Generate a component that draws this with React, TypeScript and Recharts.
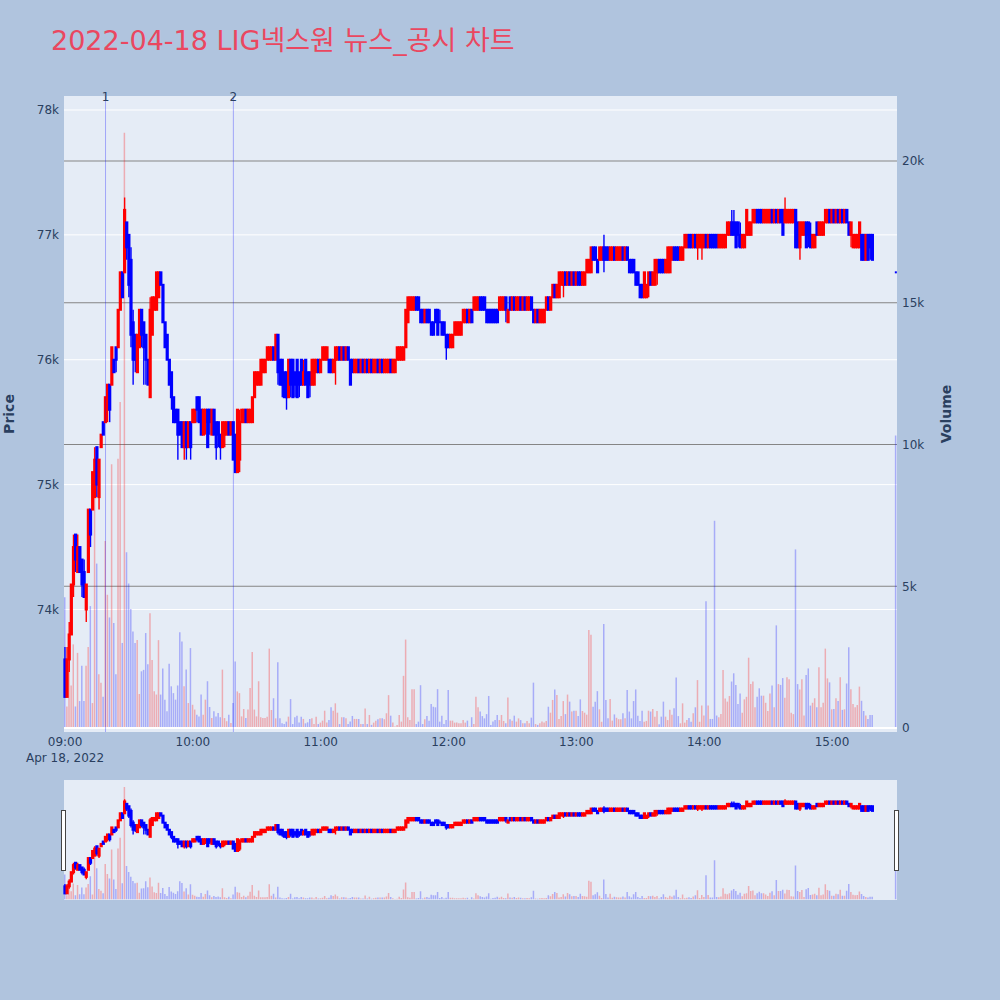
import React from 'react';
import { ComposedChart, Bar, XAxis, YAxis, CartesianGrid, ReferenceLine, Cell } from 'recharts';

// One-minute candles, 09:00 .. 15:19, prices in units of 100 won
const opens = [
  736, 733, 736, 738, 742, 746, 743, 745, 744, 743, 740, 743, 748, 748, 749, 753, 749, 753, 755, 755,
  756, 758, 758, 760, 761, 761, 764, 767, 767, 771, 770, 768, 763, 762, 759, 761, 764, 763, 762, 760,
  757, 762, 764, 764, 765, 767, 766, 763, 762, 760, 759, 757, 756, 756, 755, 755, 753, 755, 753, 755,
  755, 755, 757, 757, 756, 754, 755, 756, 756, 754, 756, 755, 755, 754, 753, 754, 754, 755, 754, 755,
  754, 751, 752, 755, 755, 756, 755, 755, 755, 757, 758, 758, 758, 759, 759, 760, 760, 760, 761, 760,
  762, 760, 760, 759, 759, 757, 760, 760, 759, 760, 759, 760, 758, 760, 759, 759, 758, 758, 759, 760,
  759, 760, 760, 760, 760, 760, 759, 760, 760, 761, 760, 761, 760, 761, 760, 760, 759, 759, 760, 759,
  760, 759, 760, 759, 760, 759, 759, 760, 759, 760, 759, 759, 759, 760, 759, 759, 760, 760, 760, 760,
  761, 763, 764, 764, 764, 765, 765, 764, 764, 763, 764, 764, 763, 763, 764, 764, 763, 763, 763, 762,
  762, 761, 761, 762, 762, 762, 762, 763, 763, 764, 763, 764, 764, 764, 764, 765, 765, 765, 764, 764,
  764, 764, 764, 764, 764, 764, 764, 765, 763, 765, 764, 765, 764, 764, 765, 764, 765, 764, 764, 765,
  764, 763, 764, 763, 763, 763, 764, 765, 764, 765, 766, 765, 765, 766, 766, 767, 766, 767, 766, 767,
  766, 767, 767, 766, 766, 767, 767, 767, 769, 769, 768, 768, 768, 769, 769, 769, 768, 768, 769, 768,
  768, 768, 769, 768, 769, 768, 768, 768, 767, 767, 766, 766, 765, 765, 766, 767, 766, 766, 767, 768,
  768, 768, 767, 767, 767, 768, 769, 769, 769, 768, 768, 769, 769, 770, 770, 769, 770, 769, 769, 769,
  769, 770, 769, 770, 770, 770, 770, 769, 769, 769, 769, 770, 770, 771, 771, 771, 771, 770, 769, 769,
  770, 770, 770, 771, 771, 772, 772, 772, 771, 771, 771, 771, 772, 771, 772, 771, 772, 772, 771, 771,
  771, 771, 771, 772, 771, 769, 770, 770, 771, 771, 770, 769, 769, 771, 770, 770, 770, 771, 771, 772,
  771, 772, 771, 772, 771, 772, 771, 772, 771, 770, 769, 769, 769, 769, 770, 770, 768, 770, 770, 770,
];
const highs = [
  737, 737, 739, 742, 746, 746, 746, 745, 744, 744, 742, 748, 748, 751, 753, 753, 752, 754, 755, 757,
  758, 758, 761, 760, 761, 764, 767, 767, 773, 771, 770, 769, 764, 762, 762, 764, 764, 763, 762, 760,
  765, 765, 765, 767, 767, 767, 766, 763, 762, 760, 759, 757, 756, 756, 755, 755, 755, 755, 755, 755,
  756, 756, 757, 757, 756, 756, 756, 756, 756, 756, 756, 755, 755, 754, 755, 755, 755, 755, 755, 755,
  754, 756, 756, 756, 756, 756, 756, 756, 757, 759, 759, 759, 760, 760, 760, 761, 761, 761, 761, 762,
  762, 760, 760, 759, 759, 760, 760, 760, 759, 760, 759, 760, 760, 760, 759, 759, 760, 760, 760, 760,
  760, 761, 761, 761, 760, 760, 760, 761, 761, 761, 761, 761, 761, 761, 760, 760, 760, 760, 760, 760,
  760, 760, 760, 760, 760, 760, 760, 760, 760, 760, 760, 760, 760, 760, 760, 760, 761, 761, 761, 761,
  764, 765, 765, 765, 765, 765, 765, 764, 764, 764, 764, 764, 763, 763, 764, 764, 764, 763, 763, 762,
  762, 762, 762, 763, 763, 763, 763, 764, 764, 764, 764, 764, 765, 765, 765, 765, 765, 765, 764, 764,
  764, 764, 764, 764, 765, 765, 765, 765, 764, 765, 765, 765, 765, 765, 765, 765, 765, 765, 765, 765,
  764, 764, 764, 764, 764, 764, 765, 765, 765, 766, 766, 766, 767, 767, 767, 767, 767, 767, 767, 767,
  767, 767, 767, 767, 767, 768, 768, 769, 769, 769, 768, 769, 769, 770, 769, 769, 769, 769, 769, 769,
  769, 769, 769, 769, 769, 768, 768, 768, 767, 767, 766, 766, 767, 766, 767, 767, 767, 768, 768, 768,
  768, 768, 768, 769, 769, 769, 769, 769, 769, 769, 769, 770, 770, 770, 770, 770, 770, 770, 770, 770,
  770, 770, 770, 770, 770, 770, 770, 770, 770, 770, 770, 771, 771, 772, 772, 771, 771, 771, 770, 770,
  772, 771, 771, 772, 772, 772, 772, 772, 772, 772, 772, 772, 772, 772, 772, 772, 772, 772, 773, 772,
  772, 772, 772, 772, 771, 771, 771, 771, 771, 771, 771, 770, 770, 771, 771, 771, 771, 772, 772, 772,
  772, 772, 772, 772, 772, 772, 772, 772, 771, 771, 770, 770, 770, 771, 770, 770, 770, 770, 770, 770,
];
const lows = [
  733, 733, 735, 738, 741, 743, 743, 743, 741, 741, 739, 743, 745, 748, 749, 749, 748, 753, 754, 755,
  755, 755, 758, 759, 759, 761, 764, 765, 767, 768, 765, 761, 758, 759, 759, 761, 761, 758, 758, 758,
  757, 762, 764, 764, 765, 766, 763, 761, 760, 758, 756, 755, 755, 752, 754, 753, 752, 752, 753, 752,
  755, 755, 755, 755, 754, 754, 754, 753, 754, 754, 754, 752, 753, 752, 753, 753, 754, 754, 754, 752,
  751, 751, 751, 755, 755, 755, 755, 755, 755, 757, 758, 758, 758, 759, 759, 760, 760, 760, 760, 760,
  758, 758, 757, 757, 756, 757, 757, 757, 757, 757, 757, 758, 758, 758, 757, 757, 758, 758, 759, 759,
  759, 760, 760, 760, 759, 759, 759, 758, 760, 760, 760, 760, 760, 760, 758, 759, 759, 759, 759, 759,
  759, 759, 759, 759, 759, 759, 759, 759, 759, 759, 759, 759, 759, 759, 759, 759, 760, 760, 760, 760,
  761, 763, 764, 764, 764, 764, 764, 763, 763, 763, 763, 763, 762, 762, 763, 762, 763, 762, 762, 760,
  761, 761, 761, 762, 762, 762, 762, 763, 763, 763, 763, 763, 764, 764, 764, 764, 764, 764, 763, 763,
  763, 763, 763, 763, 764, 764, 764, 763, 763, 764, 764, 764, 764, 764, 764, 764, 764, 764, 764, 764,
  763, 763, 763, 763, 763, 763, 764, 764, 764, 765, 765, 765, 765, 766, 765, 766, 766, 766, 766, 766,
  766, 766, 766, 766, 766, 767, 767, 767, 768, 768, 767, 768, 768, 767, 768, 768, 768, 768, 768, 768,
  768, 768, 768, 768, 768, 767, 767, 767, 766, 766, 765, 765, 765, 765, 765, 766, 766, 766, 766, 767,
  767, 767, 767, 767, 767, 768, 768, 768, 768, 768, 768, 769, 769, 769, 769, 769, 769, 768, 769, 768,
  769, 769, 769, 769, 769, 769, 769, 769, 769, 769, 769, 770, 770, 770, 770, 769, 769, 769, 769, 769,
  770, 770, 770, 771, 771, 771, 771, 771, 771, 771, 771, 771, 771, 771, 771, 771, 771, 770, 771, 771,
  771, 771, 771, 769, 769, 768, 770, 770, 769, 769, 769, 769, 769, 770, 770, 770, 770, 771, 771, 771,
  771, 771, 771, 771, 771, 771, 771, 771, 770, 769, 769, 769, 769, 769, 768, 768, 768, 768, 768, 768,
];
const closes = [
  733, 736, 738, 742, 745, 744, 745, 743, 742, 741, 742, 748, 746, 751, 752, 750, 752, 754, 754, 757,
  758, 756, 761, 759, 760, 764, 767, 765, 772, 769, 766, 762, 760, 760, 762, 764, 762, 761, 760, 758,
  764, 765, 765, 767, 767, 766, 763, 761, 760, 758, 757, 755, 755, 754, 754, 753, 755, 753, 755, 753,
  756, 756, 756, 755, 754, 756, 756, 753, 755, 756, 754, 753, 754, 753, 755, 755, 755, 754, 755, 752,
  751, 756, 755, 756, 756, 755, 756, 756, 757, 759, 759, 759, 760, 760, 760, 761, 761, 761, 760, 762,
  759, 758, 758, 757, 757, 760, 758, 757, 758, 757, 758, 758, 759, 758, 757, 758, 760, 760, 760, 759,
  760, 761, 761, 761, 759, 759, 760, 761, 761, 760, 761, 760, 761, 760, 758, 759, 760, 760, 759, 760,
  759, 760, 759, 760, 759, 760, 760, 759, 760, 759, 760, 760, 760, 759, 760, 760, 761, 761, 761, 761,
  764, 765, 765, 765, 765, 764, 764, 763, 763, 764, 763, 763, 762, 762, 763, 762, 763, 762, 762, 761,
  761, 762, 762, 763, 763, 763, 763, 764, 764, 763, 764, 763, 765, 765, 765, 764, 764, 764, 763, 763,
  763, 763, 763, 763, 765, 765, 765, 764, 764, 764, 765, 764, 765, 765, 764, 765, 764, 765, 765, 764,
  763, 764, 763, 764, 764, 764, 765, 764, 765, 766, 765, 766, 767, 767, 767, 766, 767, 766, 767, 766,
  767, 766, 766, 767, 767, 768, 768, 769, 768, 768, 767, 769, 769, 768, 768, 768, 769, 769, 768, 769,
  769, 769, 768, 769, 768, 767, 767, 767, 766, 766, 765, 765, 767, 766, 767, 766, 767, 768, 768, 767,
  767, 767, 768, 769, 769, 769, 768, 768, 768, 769, 769, 770, 770, 769, 769, 770, 769, 770, 770, 770,
  770, 769, 770, 769, 769, 769, 769, 770, 770, 770, 770, 771, 771, 770, 770, 769, 770, 769, 770, 770,
  772, 771, 771, 772, 772, 771, 771, 771, 772, 772, 772, 772, 771, 772, 771, 772, 771, 770, 772, 772,
  772, 772, 772, 769, 769, 771, 771, 771, 769, 770, 769, 770, 770, 770, 771, 771, 771, 772, 772, 771,
  772, 771, 772, 771, 772, 771, 772, 771, 770, 771, 770, 770, 770, 771, 768, 768, 770, 768, 769, 768,
];
const volumes = [
  4610, 760, 2650, 1500, 2950, 760, 2650, 950, 2200, 950, 2200, 2860, 4300, 880, 9900, 5800, 1900, 1600, 1100, 6600,
  4700, 3900, 9300, 3700, 1900, 9500, 11500, 3000, 21000, 6200, 5100, 4200, 3400, 3000, 3100, 1200, 2000, 2050, 3350, 2250,
  4050, 2400, 1300, 1180, 3100, 1180, 2100, 1000, 590, 2270, 1470, 1230, 1000, 1500, 3380, 3050, 1470, 2060, 880, 2820,
  820, 650, 470, 410, 1180, 470, 1000, 1650, 740, 350, 590, 410, 530, 380, 2060, 350, 240, 470, 180, 880,
  2350, 1290, 1230, 410, 670, 350, 650, 1410, 2680, 650, 410, 1650, 380, 350, 350, 400, 2800, 635, 1050, 340,
  2320, 340, 165, 140, 225, 400, 1020, 140, 380, 435, 190, 400, 320, 165, 200, 320, 340, 140, 400, 140,
  190, 260, 610, 190, 280, 730, 610, 870, 540, 140, 380, 380, 340, 140, 225, 425, 320, 320, 320, 140,
  140, 690, 140, 460, 110, 190, 260, 310, 340, 340, 310, 520, 1160, 435, 190, 50, 110, 460, 225, 1840,
  3120, 380, 280, 1370, 1370, 140, 225, 1510, 140, 310, 425, 260, 850, 750, 730, 1370, 225, 435, 140, 280,
  1340, 260, 260, 190, 190, 165, 165, 280, 190, 260, 50, 380, 140, 1100, 730, 580, 420, 340, 490, 1130,
  110, 225, 280, 460, 280, 460, 250, 165, 1080, 305, 260, 435, 225, 340, 280, 165, 165, 250, 165, 365,
  1600, 140, 110, 165, 225, 190, 250, 750, 540, 990, 1360, 1160, 320, 425, 950, 490, 1180, 930, 580, 610,
  610, 420, 1010, 600, 540, 470, 3460, 3290, 750, 930, 1300, 660, 220, 3670, 990, 340, 1020, 260, 480, 360,
  310, 310, 520, 340, 1340, 580, 340, 950, 1360, 435, 250, 610, 220, 250, 610, 580, 670, 400, 600, 130,
  400, 930, 400, 280, 640, 470, 700, 1780, 420, 165, 870, 190, 280, 350, 220, 520, 730, 1690, 220, 790,
  440, 4470, 790, 320, 320, 7310, 440, 380, 490, 2050, 1040, 930, 1130, 1640, 1930, 1520, 850, 1220, 540, 1010,
  1100, 2480, 1550, 1640, 730, 1100, 1400, 1140, 1140, 890, 600, 1220, 1500, 730, 3620, 1550, 1520, 1760, 1070, 1790,
  1720, 540, 490, 6300, 1550, 1360, 1720, 440, 1870, 2100, 790, 890, 1050, 730, 2140, 730, 890, 2800, 1750, 1610,
  660, 670, 1050, 950, 1790, 640, 660, 1570, 2850, 1370, 850, 730, 810, 1460, 960, 600, 440, 320, 460, 460,
];

// 15:30 closing single-price auction
const closingAuction = { minute: 390, open: 767, high: 767, low: 767, close: 767, volume: 10320 };

const PRICE_UNIT = 100;
const SLOTS = 391; // 09:00 .. 15:30, one slot per minute
const PRICE_DOMAIN = [73019, 78112];
const VOLUME_DOMAIN = [-141, 22293];
const PRICE_TICKS = [74000, 75000, 76000, 77000, 78000];
const VOLUME_TICKS = [0, 5000, 10000, 15000, 20000];
const VOLUME_GRID = [5000, 10000, 15000, 20000];
const markers = [
  { minute: 19, label: '1' },
  { minute: 79, label: '2' },
];

const UP = '#FF0000';
const DOWN = '#0000FF';
const INK = '#2a3f5f';
const FONT = '"DejaVu Sans", Verdana, "Noto Sans CJK KR", sans-serif';

type Row = {
  m: number;
  open?: number;
  high?: number;
  low?: number;
  close?: number;
  range?: [number, number];
  volume?: number;
  up?: boolean;
};

const makeRow = (m: number, o: number, h: number, l: number, c: number, v: number): Row => ({
  m,
  open: o * PRICE_UNIT,
  high: h * PRICE_UNIT,
  low: l * PRICE_UNIT,
  close: c * PRICE_UNIT,
  range: [l * PRICE_UNIT, h * PRICE_UNIT],
  volume: v,
  up: c > o,
});

const rows: Row[] = Array.from({ length: SLOTS }, (_, m) => ({ m }));
opens.forEach((o, i) => {
  rows[i] = makeRow(i, o, highs[i], lows[i], closes[i], volumes[i]);
});
rows[closingAuction.minute] = makeRow(
  closingAuction.minute,
  closingAuction.open,
  closingAuction.high,
  closingAuction.low,
  closingAuction.close,
  closingAuction.volume
);

const Candle = (props: any) => {
  const d: Row = props.payload ?? props;
  if (d == null || d.open == null) return null;
  let { x, y, width, height } = props;
  if (height < 0) {
    y += height;
    height = -height;
  }
  const color = d.up ? UP : DOWN;
  const cx = x + width / 2;
  const span = (d.high as number) - (d.low as number);
  if (span <= 0) {
    // single-price candle: a small dot
    return <rect x={cx - 1} y={y - 1} width={2} height={2} fill={color} />;
  }
  const k = height / span;
  const yOf = (v: number) => y + ((d.high as number) - v) * k;
  const top = yOf(Math.max(d.open, d.close as number));
  const bot = yOf(Math.min(d.open, d.close as number));
  return (
    <g>
      <line x1={cx} x2={cx} y1={y} y2={y + height} stroke={color} strokeWidth={1.4} />
      <rect x={cx - 1.6} y={top - 1} width={3.2} height={bot - top + 2} fill={color} />
    </g>
  );
};

const hourLabel = (m: number) => `${String(9 + Math.floor(m / 60)).padStart(2, '0')}:00`;

const TimeTick = (props: any) => {
  const { x, y, payload } = props;
  const m = Number(payload.value);
  return (
    <g>
      <text x={x} y={y + 14} textAnchor="middle" fill={INK} fontSize={12}>
        {hourLabel(m)}
      </text>
      {m === 0 && (
        <text x={x} y={y + 30} textAnchor="middle" fill={INK} fontSize={12}>
          Apr 18, 2022
        </text>
      )}
    </g>
  );
};

const MarkerLabel = (props: any) => {
  const vb = props.viewBox || {};
  return (
    <text x={vb.x} y={(vb.y ?? 0) + 5} textAnchor="middle" fill={INK} fontSize={12}>
      {props.text}
    </text>
  );
};

const kFormat = (v: number) => (v === 0 ? '0' : `${v / 1000}k`);

const volumeCells = rows.map((r) => (
  <Cell key={`v-${r.m}`} fill={r.up ? UP : DOWN} fillOpacity={0.27} />
));

const MainChart = () => (
  <ComposedChart width={1000} height={780} data={rows} margin={{ top: 96, right: 53, bottom: 8, left: 8 }}>
    <CartesianGrid
      xAxisId="candle"
      yAxisId="price"
      vertical={false}
      horizontalValues={PRICE_TICKS}
      stroke="#ffffff"
      strokeWidth={1}
      fill="#E5ECF6"
      fillOpacity={1}
    />
    <CartesianGrid
      xAxisId="candle"
      yAxisId="vol"
      vertical={false}
      horizontalValues={VOLUME_GRID}
      stroke="#858585"
      strokeWidth={1}
    />
    <XAxis
      xAxisId="candle"
      dataKey="m"
      type="category"
      interval={59}
      tick={<TimeTick />}
      tickLine={false}
      axisLine={false}
      tickSize={0}
      tickMargin={0}
      height={40}
    />
    <XAxis xAxisId="vol" dataKey="m" type="category" hide />
    <YAxis
      yAxisId="price"
      orientation="left"
      domain={PRICE_DOMAIN}
      ticks={PRICE_TICKS}
      allowDataOverflow
      tickFormatter={kFormat}
      width={56}
      tickSize={0}
      tickMargin={5}
      axisLine={false}
      tickLine={false}
      tick={{ fill: INK, fontSize: 12 }}
    />
    <YAxis
      yAxisId="vol"
      orientation="right"
      domain={VOLUME_DOMAIN}
      ticks={VOLUME_TICKS}
      allowDataOverflow
      tickFormatter={kFormat}
      width={50}
      tickSize={0}
      tickMargin={5}
      axisLine={false}
      tickLine={false}
      tick={{ fill: INK, fontSize: 12 }}
    />
    <ReferenceLine xAxisId="candle" yAxisId="vol" y={0} stroke="#ffffff" strokeWidth={2} />
    {markers.map((mk) => (
      <ReferenceLine
        key={mk.label}
        xAxisId="candle"
        yAxisId="price"
        x={mk.minute}
        stroke="rgba(0,0,255,0.3)"
        strokeWidth={1}
        label={<MarkerLabel text={mk.label} />}
      />
    ))}
    <Bar xAxisId="vol" yAxisId="vol" dataKey="volume" barSize={1.5} isAnimationActive={false}>
      {volumeCells}
    </Bar>
    <Bar xAxisId="candle" yAxisId="price" dataKey="range" barSize={3} shape={<Candle />} isAnimationActive={false} />
  </ComposedChart>
);

const SliderChart = () => (
  <ComposedChart width={1000} height={120} data={rows} margin={{ top: 0, right: 103, bottom: 0, left: 64 }}>
    <CartesianGrid xAxisId="candle" yAxisId="price" horizontal={false} vertical={false} fill="#E5ECF6" fillOpacity={1} />
    <XAxis xAxisId="candle" dataKey="m" type="category" hide />
    <XAxis xAxisId="vol" dataKey="m" type="category" hide />
    <YAxis yAxisId="price" domain={PRICE_DOMAIN} allowDataOverflow hide />
    <YAxis yAxisId="vol" orientation="right" domain={VOLUME_DOMAIN} allowDataOverflow hide />
    <Bar xAxisId="vol" yAxisId="vol" dataKey="volume" barSize={1.5} isAnimationActive={false}>
      {volumeCells}
    </Bar>
    <Bar xAxisId="candle" yAxisId="price" dataKey="range" barSize={3} shape={<Candle />} isAnimationActive={false} />
  </ComposedChart>
);

const App: React.FC = () => {
  return (
    <div
      style={{
        position: 'absolute',
        left: 0,
        top: 0,
        width: 1000,
        height: 1000,
        background: '#B0C4DE',
        fontFamily: FONT,
        overflow: 'hidden',
      }}
    >
      <div style={{ position: 'absolute', left: 0, top: 0 }}>
        <MainChart />
      </div>
      <div style={{ position: 'absolute', left: 0, top: 780 }}>
        <SliderChart />
      </div>
      <svg
        width={1000}
        height={1000}
        style={{ position: 'absolute', left: 0, top: 0, pointerEvents: 'none', fontFamily: FONT }}
      >
        <text x={51} y={50} fontSize={27} fill="#EA4760">
          2022-04-18 LIG넥스원 뉴스_공시 차트
        </text>
        <text
          x={0}
          y={0}
          transform="translate(14,414) rotate(-90)"
          textAnchor="middle"
          fontSize={14}
          fontWeight="bold"
          fill={INK}
        >
          Price
        </text>
        <text
          x={0}
          y={0}
          transform="translate(951,414) rotate(-90)"
          textAnchor="middle"
          fontSize={14}
          fontWeight="bold"
          fill={INK}
        >
          Volume
        </text>
        <rect x={61.5} y={810.5} width={4} height={60} fill="#ffffff" stroke="#444" strokeWidth={1} />
        <rect x={894.5} y={810.5} width={4} height={60} fill="#ffffff" stroke="#444" strokeWidth={1} />
      </svg>
    </div>
  );
};

export default App;
